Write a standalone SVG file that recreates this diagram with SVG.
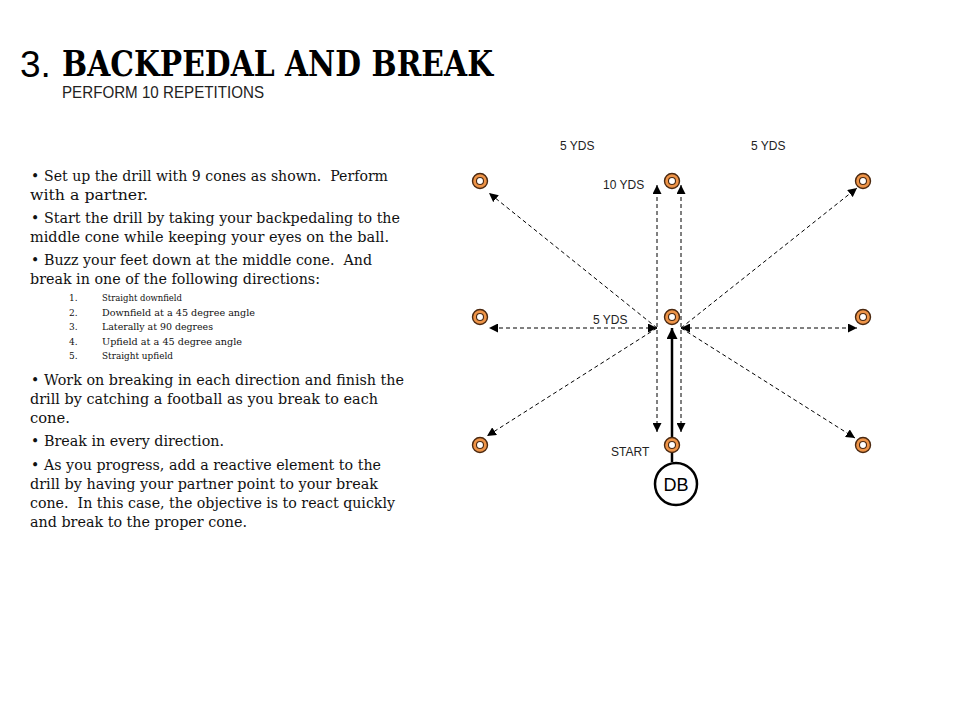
<svg xmlns="http://www.w3.org/2000/svg" width="960" height="720" viewBox="0 0 960 720">
<style>
.title{font-family:"DejaVu Serif","Liberation Serif",serif;font-weight:bold;font-size:36px;fill:#000}
.num{font-family:"Liberation Sans",Arial,sans-serif;font-size:37px;fill:#000}
.sub{font-family:"Liberation Sans Narrow","Liberation Sans",Arial,sans-serif;font-size:17px;fill:#222}
.body{font-family:"DejaVu Serif","Liberation Serif",serif;font-size:14px;fill:#111;white-space:pre}
.list{font-family:"DejaVu Serif","Liberation Serif",serif;font-size:9px;fill:#111}
.lbl{font-family:"Liberation Sans",Arial,sans-serif;font-size:12px;fill:#222}
.cone circle.o{fill:#EE9448;stroke:#4a2810;stroke-width:1.4}
.cone circle.i{fill:#fff;stroke:#4a2810;stroke-width:1.1}
.dash{stroke:#000;stroke-width:1;stroke-dasharray:4 3;fill:none}
</style>
<defs>
<marker id="ah" viewBox="0 0 10 10" refX="10" refY="5" markerWidth="9" markerHeight="9" markerUnits="userSpaceOnUse" orient="auto-start-reverse">
<path d="M0,0 L10,5 L0,10 z" fill="#000"/>
</marker>
<marker id="ahs" viewBox="0 0 10 10" refX="10" refY="5" markerWidth="11" markerHeight="11" markerUnits="userSpaceOnUse" orient="auto">
<path d="M0,0 L10,5 L0,10 z" fill="#000"/>
</marker>
</defs>
<rect width="960" height="720" fill="#fff"/>

<g id="title">
<text class="num" x="20" y="77">3.</text>
<text class="title" x="62" y="76" textLength="431" lengthAdjust="spacingAndGlyphs">BACKPEDAL AND BREAK</text>
<text class="sub" x="62" y="98" textLength="202" lengthAdjust="spacingAndGlyphs">PERFORM 10 REPETITIONS</text>
</g>

<g id="instructions">
<text class="body" x="31" y="181">•</text>
<text class="body" x="44" y="181" textLength="344" lengthAdjust="spacingAndGlyphs" xml:space="preserve">Set up the drill with 9 cones as shown.  Perform</text>
<text class="body" x="30" y="200" textLength="118" lengthAdjust="spacingAndGlyphs">with a partner.</text>
<text class="body" x="31" y="223">•</text>
<text class="body" x="44" y="223" textLength="356" lengthAdjust="spacingAndGlyphs">Start the drill by taking your backpedaling to the</text>
<text class="body" x="30" y="242" textLength="359" lengthAdjust="spacingAndGlyphs">middle cone while keeping your eyes on the ball.</text>
<text class="body" x="31" y="265">•</text>
<text class="body" x="44" y="265" textLength="328" lengthAdjust="spacingAndGlyphs" xml:space="preserve">Buzz your feet down at the middle cone.  And</text>
<text class="body" x="30" y="284" textLength="290" lengthAdjust="spacingAndGlyphs">break in one of the following directions:</text>

<text class="list" x="69" y="301">1.</text><text class="list" x="102" y="301" textLength="80" lengthAdjust="spacingAndGlyphs">Straight downfield</text>
<text class="list" x="69" y="316">2.</text><text class="list" x="102" y="316" textLength="153" lengthAdjust="spacingAndGlyphs">Downfield at a 45 degree angle</text>
<text class="list" x="69" y="330">3.</text><text class="list" x="102" y="330" textLength="111" lengthAdjust="spacingAndGlyphs">Laterally at 90 degrees</text>
<text class="list" x="69" y="345">4.</text><text class="list" x="102" y="345" textLength="140" lengthAdjust="spacingAndGlyphs">Upfield at a 45 degree angle</text>
<text class="list" x="69" y="359">5.</text><text class="list" x="102" y="359" textLength="71" lengthAdjust="spacingAndGlyphs">Straight upfield</text>

<text class="body" x="31" y="385">•</text>
<text class="body" x="44" y="385" textLength="360" lengthAdjust="spacingAndGlyphs">Work on breaking in each direction and finish the</text>
<text class="body" x="30" y="404" textLength="348" lengthAdjust="spacingAndGlyphs">drill by catching a football as you break to each</text>
<text class="body" x="30" y="423" textLength="40" lengthAdjust="spacingAndGlyphs">cone.</text>
<text class="body" x="31" y="446">•</text>
<text class="body" x="44" y="446" textLength="180" lengthAdjust="spacingAndGlyphs">Break in every direction.</text>
<text class="body" x="31" y="470">•</text>
<text class="body" x="44" y="470" textLength="337" lengthAdjust="spacingAndGlyphs">As you progress, add a reactive element to the</text>
<text class="body" x="30" y="489" textLength="348" lengthAdjust="spacingAndGlyphs">drill by having your partner point to your break</text>
<text class="body" x="30" y="508" textLength="365" lengthAdjust="spacingAndGlyphs" xml:space="preserve">cone.  In this case, the objective is to react quickly</text>
<text class="body" x="30" y="527" textLength="217" lengthAdjust="spacingAndGlyphs">and break to the proper cone.</text>
</g>

<g id="connectors">
<line class="dash" x1="657" y1="328" x2="489" y2="193" marker-end="url(#ah)"/>
<line class="dash" x1="681" y1="328" x2="857" y2="188" marker-end="url(#ah)"/>
<line class="dash" x1="657" y1="328" x2="487" y2="436" marker-end="url(#ah)"/>
<line class="dash" x1="681" y1="328" x2="855" y2="438" marker-end="url(#ah)"/>
<line class="dash" x1="657" y1="328" x2="489" y2="328" marker-start="url(#ah)" marker-end="url(#ah)"/>
<line class="dash" x1="681" y1="328" x2="857" y2="328" marker-start="url(#ah)" marker-end="url(#ah)"/>
<line class="dash" x1="657" y1="432" x2="657" y2="185" marker-start="url(#ah)" marker-end="url(#ah)"/>
<line class="dash" x1="681" y1="432" x2="681" y2="185" marker-start="url(#ah)" marker-end="url(#ah)"/>
<line x1="672" y1="462" x2="672" y2="328" stroke="#000" stroke-width="2.5" marker-end="url(#ahs)"/>
</g>

<g id="cone-tl" class="cone"><circle class="o" cx="480" cy="181" r="7.5"/><circle class="i" cx="480" cy="181" r="3.5"/></g>
<g id="cone-tc" class="cone"><circle class="o" cx="672" cy="181" r="7.5"/><circle class="i" cx="672" cy="181" r="3.5"/></g>
<g id="cone-tr" class="cone"><circle class="o" cx="863" cy="181" r="7.5"/><circle class="i" cx="863" cy="181" r="3.5"/></g>
<g id="cone-ml" class="cone"><circle class="o" cx="480" cy="317" r="7.5"/><circle class="i" cx="480" cy="317" r="3.5"/></g>
<g id="cone-mc" class="cone"><circle class="o" cx="672" cy="317" r="7.5"/><circle class="i" cx="672" cy="317" r="3.5"/></g>
<g id="cone-mr" class="cone"><circle class="o" cx="863" cy="317" r="7.5"/><circle class="i" cx="863" cy="317" r="3.5"/></g>
<g id="cone-bl" class="cone"><circle class="o" cx="480" cy="445" r="7.5"/><circle class="i" cx="480" cy="445" r="3.5"/></g>
<g id="cone-bc" class="cone"><circle class="o" cx="672" cy="445" r="7.5"/><circle class="i" cx="672" cy="445" r="3.5"/></g>
<g id="cone-br" class="cone"><circle class="o" cx="863" cy="445" r="7.5"/><circle class="i" cx="863" cy="445" r="3.5"/></g>

<g id="db">
<circle cx="676" cy="484" r="21" fill="#fff" stroke="#000" stroke-width="2.5"/>
<text x="676" y="490.5" text-anchor="middle" font-family="Liberation Sans, Arial, sans-serif" font-size="18" fill="#000">DB</text>
</g>

<g id="labels">
<text class="lbl" x="560" y="150">5 YDS</text>
<text class="lbl" x="751" y="150">5 YDS</text>
<text class="lbl" x="603" y="189">10 YDS</text>
<text class="lbl" x="593" y="324">5 YDS</text>
<text class="lbl" x="611" y="456">START</text>
</g>
</svg>
